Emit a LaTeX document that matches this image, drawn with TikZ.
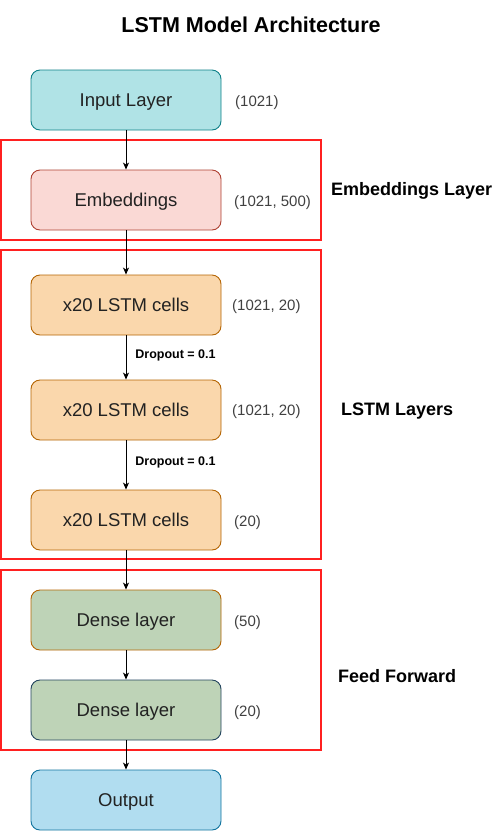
\documentclass[tikz,border=0pt]{standalone}
\usepackage{fontspec}
\setmainfont{Liberation Sans}
\usetikzlibrary{arrows.meta}
\definecolor{inF}{HTML}{B0E3E6}\definecolor{inD}{HTML}{0E8088}
\definecolor{emF}{HTML}{FAD9D5}\definecolor{emD}{HTML}{AE4132}
\definecolor{lsF}{HTML}{FAD7AC}\definecolor{lsD}{HTML}{B46504}
\definecolor{deF}{HTML}{BED3B7}\definecolor{deD}{HTML}{23445D}
\definecolor{ouF}{HTML}{B1DDF0}\definecolor{ouD}{HTML}{10739E}
\definecolor{txt}{HTML}{222222}
\definecolor{dim}{HTML}{404040}
\definecolor{frame}{HTML}{FF2020}
\tikzset{
  layerbox/.style={draw, rounded corners=9pt, minimum width=190pt, minimum height=60pt, inner sep=0pt, line width=0.9pt, font=\fontsize{18.5}{21}\selectfont, text=txt, text height=13.2pt, text depth=0pt},
  shapelbl/.style={anchor=west, font=\fontsize{15}{17}\selectfont, text=dim, inner sep=0pt},
  grouplbl/.style={anchor=west, font=\bfseries\fontsize{18}{20}\selectfont, inner sep=0pt},
  droplbl/.style={anchor=west, font=\bfseries\fontsize{12.5}{15}\selectfont, inner sep=0pt},
  groupframe/.style={draw=frame, line width=1.6pt},
  flow/.style={-{Stealth[length=7pt,width=6pt,inset=2pt]}, line width=0.8pt}
}
\begin{document}
\begin{tikzpicture}[x=1pt,y=-1pt]
\useasboundingbox (0,0) rectangle (501,831);
\node[font=\bfseries\fontsize{21.5}{25}\selectfont] (title) at (251,25) {LSTM Model Architecture};

\draw[groupframe] (1,140) rectangle (321,240);
\draw[groupframe] (1,250) rectangle (321,559);
\draw[groupframe] (1,570) rectangle (321,750);

\node[layerbox, fill=inF, draw=inD] (input) at (126,100) {Input Layer};
\node[layerbox, fill=emF, draw=emD] (emb) at (126,200) {Embeddings};
\node[layerbox, fill=lsF, draw=lsD] (l1) at (126,305) {x20 LSTM cells};
\node[layerbox, fill=lsF, draw=lsD] (l2) at (126,410) {x20 LSTM cells};
\node[layerbox, fill=lsF, draw=lsD] (l3) at (126,520) {x20 LSTM cells};
\node[layerbox, fill=deF, draw=lsD] (d1) at (126,620) {Dense layer};
\node[layerbox, fill=deF, draw=deD] (d2) at (126,710) {Dense layer};
\node[layerbox, fill=ouF, draw=ouD] (out) at (126,800) {Output};

\node[shapelbl] (s0) at (235,102.5) {(1021)};
\node[shapelbl] (s1) at (234,202.5) {(1021, 500)};
\node[shapelbl] (s2) at (232,306.5) {(1021, 20)};
\node[shapelbl] (s3) at (232,411.5) {(1021, 20)};
\node[shapelbl] (s4) at (234,522.5) {(20)};
\node[shapelbl] (s5) at (234,622.5) {(50)};
\node[shapelbl] (s6) at (234,712.5) {(20)};

\node[grouplbl] (g1) at (331,190.5) {Embeddings Layer};
\node[grouplbl] (g2) at (341,411.5) {LSTM Layers};
\node[grouplbl] (g3) at (338,676.5) {Feed Forward};

\draw[flow] (input) -- (emb);
\draw[flow] (emb) -- (l1);
\draw[flow] (l1) -- node[droplbl, pos=0.45, xshift=9pt] {Dropout = 0.1} (l2);
\draw[flow] (l2) -- node[droplbl, pos=0.45, xshift=9pt] {Dropout = 0.1} (l3);
\draw[flow] (l3) -- (d1);
\draw[flow] (d1) -- (d2);
\draw[flow] (d2) -- (out);
\end{tikzpicture}
\end{document}
